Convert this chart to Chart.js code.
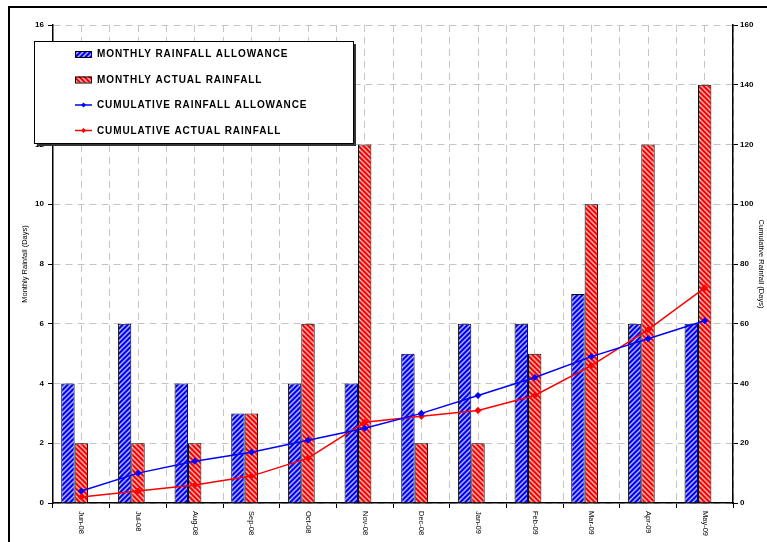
<!DOCTYPE html>
<html><head><meta charset="utf-8">
<script src="https://cdn.jsdelivr.net/npm/chart.js@4.4.1/dist/chart.umd.min.js"></script>
<style>html,body{margin:0;padding:0;background:#fff;}#wrap{position:relative;width:767px;height:542px;}canvas{display:block;}</style>
</head><body><div id="wrap"><canvas id="c" width="767" height="542"></canvas></div>
<script>
const months = ['Jun-08','Jul-08','Aug-08','Sep-08','Oct-08','Nov-08','Dec-08','Jan-09','Feb-09','Mar-09','Apr-09','May-09'];
const monthlyAllowance = [4,6,4,3,4,4,5,6,6,7,6,6];
const monthlyActual = [2,2,2,3,6,12,2,2,5,10,12,14];
const cumulativeAllowance = [4,10,14,17,21,25,30,36,42,49,55,61];
const cumulativeActual = [2,4,6,9,15,27,29,31,36,46,58,72];
const seriesNames = ['MONTHLY RAINFALL ALLOWANCE','MONTHLY ACTUAL RAINFALL','CUMULATIVE RAINFALL ALLOWANCE','CUMULATIVE ACTUAL RAINFALL'];
const leftAxisTitle = 'Monthly Rainfall (Days)';
const rightAxisTitle = 'Cumulative Rainfall (Days)';

const FONT = '"Liberation Sans", Arial, sans-serif';
const canvas = document.getElementById('c');
const mainCtx = canvas.getContext('2d');

function stripe(base, dir) {
  const s = 5;
  const c = document.createElement('canvas'); c.width = s; c.height = s;
  const g = c.getContext('2d');
  g.fillStyle = base; g.fillRect(0,0,s,s);
  g.strokeStyle = 'rgba(255,255,255,0.72)'; g.lineWidth = 1.4;
  g.beginPath();
  if (dir > 0) {
    g.moveTo(-1, s+1); g.lineTo(s+1, -1);
    g.moveTo(-1, 1); g.lineTo(1, -1);
    g.moveTo(s-1, s+1); g.lineTo(s+1, s-1);
  } else {
    g.moveTo(-1, -1); g.lineTo(s+1, s+1);
    g.moveTo(s-1, -1); g.lineTo(s+1, 1);
    g.moveTo(-1, s-1); g.lineTo(1, s+1);
  }
  g.stroke();
  return mainCtx.createPattern(c, 'repeat');
}
const bluePat = stripe('#0000ff', 1);
const redPat = stripe('#ff0000', -1);

const GRID = '#c4c4c4';
const DASH = [7,5];

const legendPlugin = {
  id: 'customLegend',
  afterDraw(chart) {
    const ctx = chart.ctx;
    ctx.save();
    // outer frame
    ctx.strokeStyle = '#000'; ctx.lineWidth = 2;
    ctx.strokeRect(9, 7, 900, 700);
    // rotated x labels
    const xs = chart.scales.x;
    ctx.font = '7.5px ' + FONT; ctx.fillStyle = '#000';
    ctx.textAlign = 'left'; ctx.textBaseline = 'middle';
    months.forEach((m, i) => {
      const px = xs.getPixelForValue(i);
      ctx.save(); ctx.translate(px, xs.top + 8); ctx.rotate(Math.PI/2); ctx.fillText(m, 0, 0); ctx.restore();
    });
    // legend box
    const bx = 34, by = 41, bw = 319, bh = 102;
    ctx.fillStyle = '#333'; ctx.fillRect(bx + 3, by + 3, bw, bh);
    ctx.fillStyle = '#fff'; ctx.fillRect(bx, by, bw, bh);
    ctx.strokeStyle = '#000'; ctx.lineWidth = 1; ctx.strokeRect(bx + 0.5, by + 0.5, bw, bh);
    const ds = chart.data.datasets;
    const items = [ds[2], ds[3], ds[0], ds[1]];
    ctx.font = 'bold 10px ' + FONT;
    try { ctx.letterSpacing = '0.9px'; } catch(e) {}
    items.forEach((d, i) => {
      const y = by + 13 + i * 25.5;
      if (d.type === 'bar') {
        ctx.fillStyle = d.backgroundColor; ctx.fillRect(75, y - 3, 17, 6);
        ctx.strokeStyle = '#000'; ctx.lineWidth = 1; ctx.strokeRect(75.5, y - 2.5, 16, 6);
      } else {
        ctx.strokeStyle = d.borderColor; ctx.lineWidth = 1.5;
        ctx.beginPath(); ctx.moveTo(75, y); ctx.lineTo(92, y); ctx.stroke();
        ctx.fillStyle = d.borderColor;
        ctx.beginPath(); ctx.moveTo(83.5, y - 2.5); ctx.lineTo(86, y); ctx.lineTo(83.5, y + 2.5); ctx.lineTo(81, y); ctx.closePath(); ctx.fill();
      }
      ctx.fillStyle = '#000'; ctx.textAlign = 'left'; ctx.textBaseline = 'middle';
      ctx.fillText(d.label, 97, y + 0.5);
    });
    ctx.restore();
  }
};

new Chart(canvas, {
  data: {
    labels: months,
    datasets: [
      { type: 'line', label: seriesNames[2], data: cumulativeAllowance, yAxisID: 'y1', xAxisID: 'x', order: 0,
        borderColor: '#0000ff', backgroundColor: '#0000ff', borderWidth: 1.5, pointStyle: 'rectRot', pointRadius: 2.5, tension: 0 },
      { type: 'line', label: seriesNames[3], data: cumulativeActual, yAxisID: 'y1', xAxisID: 'x', order: 0,
        borderColor: '#ff0000', backgroundColor: '#ff0000', borderWidth: 1.5, pointStyle: 'rectRot', pointRadius: 2.5, tension: 0 },
      { type: 'bar', label: seriesNames[0], data: monthlyAllowance, yAxisID: 'y', xAxisID: 'x', order: 1,
        backgroundColor: bluePat, borderColor: '#000', borderWidth: 1 },
      { type: 'bar', label: seriesNames[1], data: monthlyActual, yAxisID: 'y', xAxisID: 'x', order: 1,
        backgroundColor: redPat, borderColor: '#000', borderWidth: 1 },
      { type: 'bar', label: '', data: months.map(() => null), yAxisID: 'y', xAxisID: 'x', order: 1,
        backgroundColor: 'rgba(0,0,0,0)', borderWidth: 0 }
    ]
  },
  options: {
    responsive: false, animation: false,
    layout: { padding: { top: 25, left: 0, right: 0, bottom: 0 } },
    plugins: { legend: { display: false }, tooltip: { enabled: false } },
    datasets: { bar: { categoryPercentage: 0.71, barPercentage: 1 } },
    scales: {
      x: {
        type: 'category', offset: true, position: 'bottom',
        grid: { offset: true, color: GRID, lineWidth: 1, drawTicks: true, tickLength: 5, tickColor: '#000', tickWidth: 1 },
        border: { display: true, color: '#000', width: 1.5, dash: DASH },
        ticks: { display: false },
        afterFit(s) { s.height = 39; }
      },
      x2: {
        type: 'category', offset: true, position: 'bottom', labels: months,
        grid: { offset: false, color: GRID, lineWidth: 1, drawTicks: false },
        border: { display: false, dash: DASH },
        ticks: { display: false },
        afterFit(s) { s.height = 0; }
      },
      y: {
        position: 'left', min: 0, max: 16,
        ticks: { stepSize: 2, color: '#000', padding: 4, font: { family: FONT, size: 8, weight: 'bold' } },
        grid: { color: GRID, lineWidth: 1, tickColor: '#000', tickLength: 5 },
        border: { color: '#000', width: 1.5, dash: DASH },
        title: { display: true, text: leftAxisTitle, color: '#000', font: { family: FONT, size: 7.5 }, padding: { top: 20, bottom: 0 } },
        afterFit(s) { s.width = 53; }
      },
      y1: {
        position: 'right', min: 0, max: 160,
        ticks: { stepSize: 20, color: '#000', padding: 2, font: { family: FONT, size: 8, weight: 'bold' } },
        grid: { drawOnChartArea: false, tickColor: '#000', tickLength: 5 },
        border: { color: '#000', width: 1.5 },
        title: { display: true, text: rightAxisTitle, color: '#000', font: { family: FONT, size: 7.5 }, padding: { top: 1, bottom: 0 } },
        afterFit(s) { s.width = 34; }
      }
    }
  },
  plugins: [legendPlugin]
});
</script></body></html>
